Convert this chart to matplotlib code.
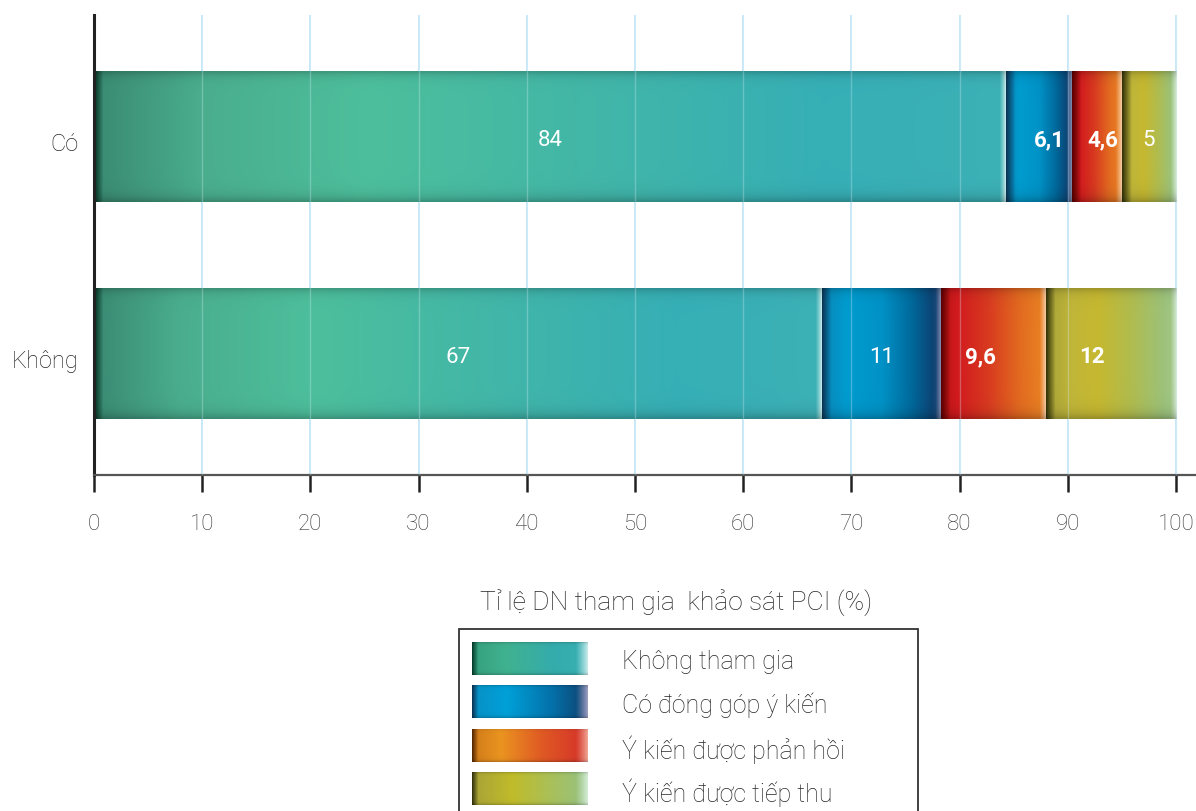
import numpy as np
import matplotlib
matplotlib.use("Agg")
import matplotlib.pyplot as plt
from matplotlib.colors import to_rgb
from matplotlib.patches import Rectangle
from matplotlib.transforms import ScaledTranslation

# ---- data ---------------------------------------------------------------
groups = ["Có", "Không"]
series = ["Không tham gia", "Có đóng góp ý kiến",
          "Ý kiến được phản hồi", "Ý kiến được tiếp thu"]
co_values = [84, 6.1, 4.6, 5]
khong_values = [67, 11, 9.6, 12]
x_ticks = [0, 10, 20, 30, 40, 50, 60, 70, 80, 90, 100]
title = "Tỉ lệ DN tham gia  khảo sát PCI (%)"

# ---- styling --------------------------------------------------------------
W, H = 1196, 811
plt.rcParams['font.family'] = ['Roboto', 'DejaVu Sans']
TEXT = '#262626'

# colour stops for each series: (left dark edge, body stops, right light edge)
bar_styles = [
    ('#03301f', [(0.0, '#3a8a72'), (0.12, '#4aae8e'), (0.3, '#4dbf9c'),
                 (0.55, '#42b6a8'), (0.8, '#36afb6'), (1.0, '#3cb1b6')], '#bfe6e6'),
    ('#0b3658', [(0.0, '#0a86b8'), (0.2, '#019ccf'), (0.5, '#0092c6'),
                 (0.75, '#00699c'), (0.92, '#0c4576'), (1.0, '#2a4a7a')], '#8c93b4'),
    ('#5e0000', [(0.0, '#b81414'), (0.15, '#d21a1e'), (0.45, '#d83a20'),
                 (0.75, '#e26a20'), (1.0, '#ea8424')], '#f6c69c'),
    ('#353508', [(0.0, '#a8a23a'), (0.2, '#c0b638'), (0.4, '#c6b830'),
                 (0.65, '#b0bc4e'), (0.9, '#9cc27a'), (1.0, '#a4c88c')], '#d2e8d0'),
]
legend_styles = [
    ('#053f2e', [(0.0, '#36a07c'), (0.3, '#40b290'), (0.7, '#34acac'),
                 (1.0, '#38b0b4')], '#c4eaea'),
    ('#0b3658', [(0.0, '#0890c4'), (0.3, '#00a0d8'), (0.7, '#0470a8'),
                 (1.0, '#10406e')], '#9a9cc0'),
    ('#5a2a00', [(0.0, '#d07a1a'), (0.25, '#ea9420'), (0.6, '#e05a24'),
                 (1.0, '#d4302a')], '#f0a492'),
    ('#36360e', [(0.0, '#a8a238'), (0.35, '#c0bc2a'), (0.7, '#a8c05c'),
                 (1.0, '#94c284')], '#d4ecd4'),
]
label_bold = {"Có": [False, True, True, False],
              "Không": [False, False, True, True]}
label_shift = {"Có": [0, 1.0, 0.6, 0],
               "Không": [0, 0, -1.2, -1.7]}


def gradient_strip(n_px, style, rows=64, edge_l=9, edge_r=6):
    dark, stops, light = style
    n_px = max(int(round(n_px)), 4)
    pos = np.array([s[0] for s in stops])
    cols = np.array([to_rgb(s[1]) for s in stops])
    t = np.linspace(0, 1, n_px)
    base = np.stack([np.interp(t, pos, cols[:, k]) for k in range(3)], axis=1)
    i = np.arange(n_px)
    # dark seam on the left, pale sheen on the right
    wl = np.clip(1 - i / edge_l, 0, 1) ** 1.0
    wr = np.clip(1 - (n_px - 1 - i) / edge_r, 0, 1) ** 1.2
    base = base * (1 - wl[:, None]) + np.array(to_rgb(dark)) * wl[:, None]
    base = base * (1 - wr[:, None]) + np.array(to_rgb(light)) * wr[:, None]
    v = np.linspace(0, 1, rows)
    shade = 1 - 0.18 * np.exp(-v / 0.035) - 0.22 * np.exp(-(1 - v) / 0.045)
    img = base[None, :, :] * shade[:, None, None]
    return np.clip(img, 0, 1)


fig = plt.figure(figsize=(W / 100, H / 100), dpi=100)
ax_left, ax_top, ax_bottom = 94, 15, 475
ax = fig.add_axes([ax_left / W, 1 - ax_bottom / H, 1 - ax_left / W,
                   (ax_bottom - ax_top) / H])
px_per_unit = 10.82
xmax = (W - ax_left) / px_per_unit
ymin, ymax = -0.5576, 1.562
bar_h = 0.6

rows_data = {"Có": co_values, "Không": khong_values}
y_pos = {"Có": 1, "Không": 0}

for g in groups:
    vals = np.array(rows_data[g], dtype=float)
    shares = vals / vals.sum() * 100
    left = 0.0
    y = y_pos[g]
    for k, (v, share) in enumerate(zip(vals, shares)):
        img = gradient_strip(share * px_per_unit, bar_styles[k])
        ax.imshow(img, extent=[left, left + share, y - bar_h / 2, y + bar_h / 2],
                  aspect='auto', origin='upper', interpolation='bilinear', zorder=2)
        txt = f"{v:g}".replace('.', ',')
        ax.text(left + share / 2 + label_shift[g][k], y - 0.015, txt,
                ha='center', va='center', color='white', fontsize=16,
                fontweight='bold' if label_bold[g][k] else 'normal', zorder=5)
        left += share

for t in x_ticks[1:]:
    ax.axvline(t, color='#bde4f7', lw=1.2, zorder=1)
    ax.axvline(t, color='#d8f0fb', lw=1.0, alpha=0.3, zorder=3)

ax.set_xlim(0, xmax)
ax.set_ylim(ymin, ymax)
ax.set_xticks(x_ticks)
ax.set_xticklabels([str(t) for t in x_ticks])
ax.set_yticks([y_pos[g] for g in groups])
ax.set_yticklabels(groups)
ax.tick_params(axis='x', direction='out', length=12, width=1.8, colors='#222',
               labelcolor='#333', labelsize=16, pad=16)
ax.tick_params(axis='y', length=0, labelcolor=TEXT, labelsize=17, pad=11)
for lbl in ax.get_xticklabels() + ax.get_yticklabels():
    lbl.set_fontweight('light')
down = ScaledTranslation(0, -5 / 100, fig.dpi_scale_trans)
for lbl in ax.get_yticklabels():
    lbl.set_transform(lbl.get_transform() + down)
for s in ('top', 'right'):
    ax.spines[s].set_visible(False)
ax.spines['left'].set_color('#222')
ax.spines['left'].set_linewidth(2.2)
ax.spines['bottom'].set_color('#555')
ax.spines['bottom'].set_linewidth(1.6)
ax.set_facecolor('none')

# ---- legend -------------------------------------------------------------
fig.text(676 / W, 1 - 603 / H, title, ha='center', va='center',
         fontsize=19, color=TEXT, fontweight='light')
box = Rectangle((459 / W, -0.05), (918 - 459) / W, (1 - 629 / H) + 0.05,
                fill=False, edgecolor='#333', lw=1.3, transform=fig.transFigure)
fig.patches.append(box)

sw_top = [642, 685, 729, 772]
sw_h = 33
for k, name in enumerate(series):
    sax = fig.add_axes([472 / W, 1 - (sw_top[k] + sw_h) / H, 116 / W, sw_h / H])
    sax.imshow(gradient_strip(116, legend_styles[k], edge_l=6, edge_r=12),
               aspect='auto', interpolation='bilinear')
    sax.axis('off')
    fig.text(622 / W, 1 - (sw_top[k] + sw_h / 2 + 4) / H, name, ha='left',
             va='center', fontsize=18, color=TEXT, fontweight='light')

fig.savefig('out.png', dpi=100)
